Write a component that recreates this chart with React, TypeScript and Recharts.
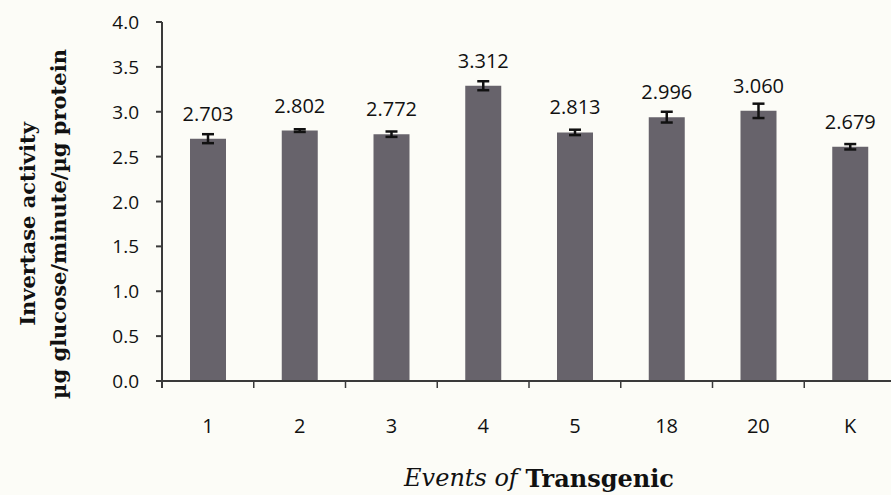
import { Bar, BarChart, ErrorBar, LabelList, XAxis, YAxis } from "recharts";

const EVENTS = ["1", "2", "3", "4", "5", "18", "20", "K"];
// bar heights as drawn in the figure
const MEANS = [2.7, 2.79, 2.75, 3.29, 2.77, 2.94, 3.01, 2.61];
// values printed above the bars
const PRINTED = ["2.703", "2.802", "2.772", "3.312", "2.813", "2.996", "3.060", "2.679"];
const ERRORS = [0.05, 0.015, 0.03, 0.05, 0.03, 0.06, 0.08, 0.03];
const Y_TICKS = [0, 0.5, 1, 1.5, 2, 2.5, 3, 3.5, 4];

const DATA = EVENTS.map((ev, i) => ({ ev, mean: MEANS[i], label: PRINTED[i], err: ERRORS[i] }));

const CHART_W = 900;
const CHART_H = 495;
const MARGIN = { top: 22, right: 4, bottom: 74, left: 0 };
const Y_W = 162;
const X_H = 40;
const PLOT_BOTTOM = CHART_H - MARGIN.bottom - X_H;
const HALF_BAND = (CHART_W - MARGIN.left - MARGIN.right - Y_W) / EVENTS.length / 2;

const AXIS_COLOR = "#3a3a3a";
const LINE = { stroke: AXIS_COLOR, strokeWidth: 2 };
const NUM_FONT = "'Open Sans', 'Liberation Sans', sans-serif";
const SERIF = "'DejaVu Serif', 'Liberation Serif', serif";

function Titles() {
  return (
    <g fontFamily={SERIF} fill="#111">
      {/* vertical axis line */}
      <path d={`M${Y_W},${MARGIN.top} L${Y_W},${PLOT_BOTTOM + 7}`} fill="none" {...LINE} />
      <g fontWeight="bold" fontSize={21}>
        <text x={27} y={224} transform="rotate(-90 27 224)" textAnchor="middle" dominantBaseline="central">
          Invertase activity
        </text>
        <text x={58} y={224} transform="rotate(-90 58 224)" textAnchor="middle" dominantBaseline="central">
          µg glucose/minute/µg protein
        </text>
      </g>
      <text x={539} y={478} textAnchor="middle" dominantBaseline="central" fontSize={24}>
        <tspan fontStyle="italic">Events of </tspan>
        <tspan fontWeight="bold">Transgenic</tspan>
      </text>
    </g>
  );
}

// category label, with the tick mark placed on the boundary between bars
function EventTick(props: any) {
  const { x, y, payload } = props;
  const axisY = y - 38;
  return (
    <g>
      <line x1={x + HALF_BAND} x2={x + HALF_BAND} y1={axisY} y2={axisY + 7} {...LINE} strokeWidth={1.5} />
      <text x={x} y={y} dy={14} textAnchor="middle" fontSize={20} fill="#111" fontFamily={NUM_FONT}>
        {payload.value}
      </text>
    </g>
  );
}

function ValueTick(props: any) {
  const { x, y, payload } = props;
  return (
    <g>
      <path d={`M${x + 17},${y} L${x + 23},${y}`} fill="none" {...LINE} />
      <text x={x} y={y} dy={7} textAnchor="end" fontSize={19} fill="#111" fontFamily={NUM_FONT}>
        {Number(payload.value).toFixed(1)}
      </text>
    </g>
  );
}

export default function App() {
  return (
    <div
      style={{
        position: "absolute",
        left: 0,
        top: 0,
        width: 891,
        height: CHART_H,
        overflow: "hidden",
        background: "#fcfcf7",
      }}
    >
      <BarChart width={CHART_W} height={CHART_H} data={DATA} margin={MARGIN}>
        <XAxis
          dataKey="ev"
          height={X_H}
          axisLine={LINE}
          tickLine={false}
          tickSize={0}
          tickMargin={38}
          tick={<EventTick />}
          label={{ content: () => <Titles /> }}
        />
        <YAxis
          width={Y_W}
          domain={[0, 4]}
          ticks={Y_TICKS}
          tickSize={6}
          tickMargin={17}
          axisLine={false}
          tickLine={false}
          tick={<ValueTick />}
        />
        <Bar dataKey="mean" fill="#67636b" barSize={36} isAnimationActive={false}>
          <ErrorBar dataKey="err" width={6} stroke="#111" strokeWidth={2.5} direction="y" />
          <LabelList dataKey="label" position="top" offset={18} fontSize={20} fill="#111" fontFamily={NUM_FONT} />
        </Bar>
      </BarChart>
    </div>
  );
}
